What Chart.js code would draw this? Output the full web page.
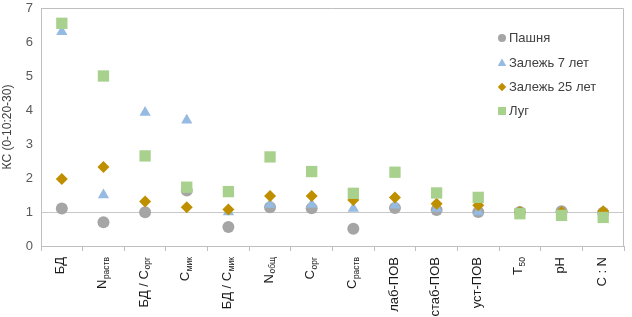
<!DOCTYPE html>
<html>
<head>
<meta charset="utf-8">
<script src="https://cdn.jsdelivr.net/npm/chart.js@4/dist/chart.umd.min.js"></script>
<style>
  html, body { margin: 0; padding: 0; background: #fff; }
  #wrap { width: 632px; height: 317px; }
</style>
</head>
<body>
<div id="wrap"><canvas id="canvas"></canvas></div>
<script>
// categories: [main text, subscript]
const categories = ['БД', 'Nраств', 'БД / Сорг', 'Смик', 'БД / Смик', 'Nобщ', 'Сорг', 'Сраств', 'лаб-ПОВ', 'стаб-ПОВ', 'уст-ПОВ', 'T50', 'pH', 'C : N']
const categoryParts = [['БД', ''], ['N', 'раств'], ['БД / С', 'орг'], ['С', 'мик'], ['БД / С', 'мик'], ['N', 'общ'], ['С', 'орг'], ['С', 'раств'], ['лаб-ПОВ', ''], ['стаб-ПОВ', ''], ['уст-ПОВ', ''], ['T', '50'], ['pH', ''], ['C : N', '']]

const pashnya = [1.10, 0.70, 0.99, 1.63, 0.56, 1.14, 1.11, 0.51, 1.12, 1.06, 1.00, 1.00, 1.02, 0.98]
const zalezh7 = [6.30, 1.50, 3.93, 3.70, 1.00, 1.22, 1.22, 1.10, 1.20, 1.10, 1.00, 1.00, 1.00, 1.00]
const zalezh25 = [1.97, 2.32, 1.31, 1.14, 1.07, 1.47, 1.47, 1.35, 1.43, 1.24, 1.20, 1.00, 1.00, 1.02]
const lug = [6.55, 5.00, 2.65, 1.73, 1.60, 2.62, 2.19, 1.55, 2.17, 1.56, 1.43, 0.95, 0.90, 0.84]

const yTicks = [0, 1, 2, 3, 4, 5, 6, 7]

const FONT = '"Liberation Sans", Arial, sans-serif'

const series = [
    {label: 'Пашня', data: pashnya, color: '#a5a5a5', style: 'circle', radius: 6, order: 3},
    {label: 'Залежь 7 лет', data: zalezh7, color: '#95bbe3', style: 'triangle', radius: 6.5, order: 2},
    {label: 'Залежь 25 лет', data: zalezh25, color: '#bf8f00', style: 'rectRot', radius: 6, order: 1},
    {label: 'Луг', data: lug, color: '#a9d18e', style: 'rect', radius: 8, order: 0},
]

const drawMarker = (ctx, style, x, y, r) => {
    ctx.beginPath()
    if (style === 'circle') {
        ctx.arc(x, y, r, 0, Math.PI * 2)
    } else if (style === 'triangle') {
        ctx.moveTo(x, y - r)
        ctx.lineTo(x + r * 0.95, y + r * 0.65)
        ctx.lineTo(x - r * 0.95, y + r * 0.65)
    } else if (style === 'rectRot') {
        ctx.moveTo(x - r, y)
        ctx.lineTo(x, y - r)
        ctx.lineTo(x + r, y)
        ctx.lineTo(x, y + r)
    } else {
        ctx.rect(x - r, y - r, r * 2, r * 2)
    }
    ctx.closePath()
    ctx.fill()
}

const decorations = {
    id: 'decorations',
    afterDraw(chart) {
        const ctx = chart.ctx
        const area = chart.chartArea
        const xScale = chart.scales.x

        // top and right border of the plot
        ctx.save()
        ctx.strokeStyle = '#bfbfbf'
        ctx.lineWidth = 1
        ctx.beginPath()
        ctx.moveTo(area.left, area.top + 0.5)
        ctx.lineTo(area.right - 0.5, area.top + 0.5)
        ctx.lineTo(area.right - 0.5, area.bottom)
        ctx.stroke()
        ctx.restore()

        // rotated x labels with subscripts
        categoryParts.forEach((parts, i) => {
            const x = xScale.getPixelForValue(i)
            ctx.save()
            ctx.translate(x - 1, area.bottom + 11)
            ctx.rotate(-Math.PI / 2)
            ctx.fillStyle = '#1a1a1a'
            ctx.textBaseline = 'middle'
            ctx.textAlign = 'left'
            ctx.font = '13px ' + FONT
            const mainW = ctx.measureText(parts[0]).width
            ctx.font = '8.5px ' + FONT
            const subW = parts[1] ? ctx.measureText(parts[1]).width + 0.5 : 0
            const start = -(mainW + subW)
            ctx.font = '13px ' + FONT
            ctx.fillText(parts[0], start, 0)
            if (parts[1]) {
                ctx.font = '8.5px ' + FONT
                ctx.fillText(parts[1], start + mainW + 0.5, 4)
            }
            ctx.restore()
        })

        // legend inside the plot
        const lx = 502
        const rows = [38, 63, 87, 111]
        const legendSize = {circle: 4, triangle: 4.5, rectRot: 4.2, rect: 4}
        series.forEach((s, i) => {
            ctx.save()
            ctx.fillStyle = s.color
            drawMarker(ctx, s.style, lx, rows[i], legendSize[s.style])
            ctx.fillStyle = '#404040'
            ctx.font = '13px ' + FONT
            ctx.textBaseline = 'middle'
            ctx.textAlign = 'left'
            ctx.fillText(s.label, lx + 7, rows[i] + 0.5)
            ctx.restore()
        })
    }
}

const canvas = document.getElementById('canvas')
new Chart(canvas, {
    type: 'line',
    data: {
        labels: categories,
        datasets: series.map(s => ({
            label: s.label,
            data: s.data,
            showLine: false,
            pointStyle: s.style,
            pointRadius: s.radius,
            pointHoverRadius: s.radius,
            pointBackgroundColor: s.color,
            pointBorderColor: s.color,
            pointBorderWidth: 0,
            order: s.order
        }))
    },
    options: {
        responsive: true,
        maintainAspectRatio: false,
        animation: false,
        layout: {padding: {top: 2, right: 3, left: 0, bottom: 0}},
        plugins: {
            legend: {display: false},
            tooltip: {enabled: false}
        },
        scales: {
            x: {
                type: 'category',
                offset: true,
                grid: {
                    offset: true,
                    drawOnChartArea: false,
                    drawTicks: true,
                    tickLength: 5,
                    color: '#bfbfbf'
                },
                border: {color: '#bfbfbf'},
                ticks: {display: false},
                afterFit(scale) {
                    scale.height = 71
                    scale.paddingLeft = 0
                    scale.paddingRight = 0
                }
            },
            y: {
                min: 0,
                max: 7,
                afterBuildTicks(scale) { scale.ticks = yTicks.map(v => ({value: v})) },
                ticks: {
                    color: '#595959',
                    font: {family: FONT, size: 13},
                    padding: 8
                },
                grid: {
                    drawTicks: false,
                    color: ctx => ctx.tick && ctx.tick.value === 1 ? '#c8c8c8' : 'rgba(0,0,0,0)'
                },
                border: {color: '#bfbfbf'},
                title: {
                    display: true,
                    text: 'КС (0-10:20-30)',
                    color: '#404040',
                    font: {family: FONT, size: 12},
                    padding: {top: 0, bottom: 2}
                },
                afterFit(scale) {
                    scale.width = 41
                    scale.paddingTop = 0
                    scale.paddingBottom = 0
                }
            }
        }
    },
    plugins: [decorations]
})
</script>
</body>
</html>
